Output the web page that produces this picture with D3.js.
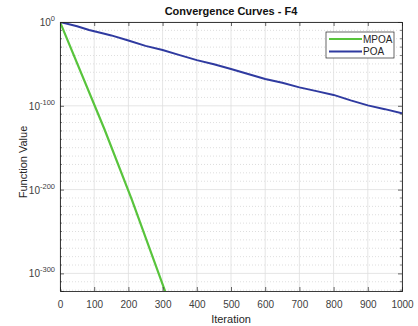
<!DOCTYPE html>
<html>
<head>
<meta charset="utf-8">
<script src="https://cdn.jsdelivr.net/npm/d3@7"></script>
<style>
  html, body { margin: 0; padding: 0; background: #fff; }
  svg { display: block; font-family: "Liberation Sans", Arial, Helvetica, sans-serif; }
</style>
</head>
<body>
<svg id="chart" width="418" height="326"></svg>
<script>
// ---- data ----
const title = "Convergence Curves - F4";
const xLabel = "Iteration";
const yLabel = "Function Value";
const seriesNames = ["MPOA", "POA"];
const mpoaIter = [0, 130, 210, 308];
const mpoaVal = [1, 1e-128, 1e-212, 1e-322];
const poaIter = [0, 50, 85, 100, 130, 150, 200, 250, 300, 350, 400, 450, 500, 550, 600, 650, 700, 750, 800, 850, 900, 950, 1000];
const poaVal = [1, 1e-5, 3.2e-10, 1e-11, 1e-14, 1e-16, 1e-22, 3.2e-29, 3.2e-34, 3.2e-40, 3.2e-46, 3.2e-51, 1e-56, 1e-62, 1e-68, 3.2e-73, 1e-78, 3.2e-83, 1e-87, 3.2e-94, 3.2e-100, 1e-104, 1e-109];
const xTicks = [0, 100, 200, 300, 400, 500, 600, 700, 800, 900, 1000];
const yTickExps = [0, -100, -200, -300];
const yMinorExps = d3.range(-10, -330, -10).filter(e => e % 100 !== 0);

// ---- layout ----
const W = 418, H = 326;
const m = { left: 60, right: 16, top: 22, bottom: 35 };
const iw = W - m.left - m.right, ih = H - m.top - m.bottom;
const svg = d3.select("#chart");
const g = svg.append("g").attr("transform", `translate(${m.left},${m.top})`);

const x = d3.scaleLinear().domain([0, 1000]).range([0, iw]);
const y = d3.scaleLog().domain([1e-321, 1]).range([ih, 0]);
const yE = e => y(Math.pow(10, e));

g.append("rect").attr("width", iw).attr("height", ih).attr("fill", "#fff");

// minor grid (dotted)
g.append("g").selectAll("line").data(yMinorExps).join("line")
  .attr("x1", 0).attr("x2", iw)
  .attr("y1", d => yE(d)).attr("y2", d => yE(d))
  .attr("stroke", "#c8c8c8").attr("stroke-width", 0.6)
  .attr("stroke-dasharray", "1,2");
// major grid
g.append("g").selectAll("line").data(yTickExps).join("line")
  .attr("x1", 0).attr("x2", iw)
  .attr("y1", d => yE(d)).attr("y2", d => yE(d))
  .attr("stroke", "#dedede").attr("stroke-width", 0.8);
g.append("g").selectAll("line").data(xTicks).join("line")
  .attr("x1", d => x(d)).attr("x2", d => x(d))
  .attr("y1", 0).attr("y2", ih)
  .attr("stroke", "#dedede").attr("stroke-width", 0.8);

// clip
svg.append("defs").append("clipPath").attr("id", "clip")
  .append("rect").attr("width", iw).attr("height", ih);

const line = d3.line().x(d => x(d[0])).y(d => y(d[1]));
const plot = g.append("g").attr("clip-path", "url(#clip)");
const colors = ["#58c43c", "#2f3aa0"];
plot.append("path").datum(mpoaIter.map((v, i) => [v, mpoaVal[i]]))
  .attr("d", line).attr("fill", "none").attr("stroke", colors[0]).attr("stroke-width", 2.2);
plot.append("path").datum(poaIter.map((v, i) => [v, poaVal[i]]))
  .attr("d", line).attr("fill", "none").attr("stroke", colors[1]).attr("stroke-width", 2);

// axes
const axCol = "#262626";
const xAxis = g.append("g").attr("transform", `translate(0,${ih})`)
  .call(d3.axisBottom(x).tickValues(xTicks).tickSize(-4).tickPadding(10).tickFormat(d3.format("d")));
const xAxisTop = g.append("g")
  .call(d3.axisTop(x).tickValues(xTicks).tickSize(-4).tickFormat(""));
const yAxis = g.append("g")
  .call(d3.axisLeft(y).tickValues(yTickExps.map(e => Math.pow(10, e))).tickSize(-4).tickPadding(6).tickFormat(""));
const yAxisR = g.append("g").attr("transform", `translate(${iw},0)`)
  .call(d3.axisRight(y).tickValues(yTickExps.map(e => Math.pow(10, e))).tickSize(-4).tickFormat(""));
// minor ticks
[0, iw].forEach((px, k) => {
  g.append("g").selectAll("line").data(yMinorExps).join("line")
    .attr("x1", px).attr("x2", k === 0 ? px + 2 : px - 2)
    .attr("y1", d => yE(d)).attr("y2", d => yE(d))
    .attr("stroke", axCol).attr("stroke-width", 0.6);
});
[xAxis, xAxisTop, yAxis, yAxisR].forEach(a => {
  a.select(".domain").attr("stroke", axCol).attr("stroke-width", 0.9);
  a.selectAll(".tick line").attr("stroke", axCol).attr("stroke-width", 0.7);
  a.selectAll("text").attr("fill", "#404040").attr("font-size", 10)
    .attr("font-family", "'Liberation Sans', Arial, sans-serif");
});

// y tick labels 10^e
const yl = g.append("g").selectAll("text").data(yTickExps).join("text")
  .attr("x", -5).attr("y", d => yE(d) + 4)
  .attr("text-anchor", "end").attr("fill", "#404040").attr("font-size", 10);
yl.append("tspan").text("10");
yl.append("tspan").attr("dy", -5).attr("font-size", 7.5).text(d => d === 0 ? "0" : "-" + Math.abs(d));

// title and labels
svg.append("text").attr("x", m.left + iw / 2).attr("y", 15)
  .attr("text-anchor", "middle").attr("font-weight", "bold").attr("font-size", 11)
  .attr("fill", "#111").text(title);
svg.append("text").attr("x", m.left + iw / 2).attr("y", 323)
  .attr("text-anchor", "middle").attr("font-size", 11).attr("fill", "#262626").text(xLabel);
svg.append("text").attr("transform", `translate(27,162) rotate(-90)`)
  .attr("text-anchor", "middle").attr("font-size", 11).attr("fill", "#262626").text(yLabel);

// legend
const lg = g.append("g").attr("transform", `translate(${iw - 76},10)`);
lg.append("rect").attr("width", 68).attr("height", 26)
  .attr("fill", "#fff").attr("stroke", axCol).attr("stroke-width", 0.7);
seriesNames.forEach((n, i) => {
  const yy = 7 + i * 12.5;
  lg.append("line").attr("x1", 3).attr("x2", 36).attr("y1", yy).attr("y2", yy)
    .attr("stroke", colors[i]).attr("stroke-width", 2);
  lg.append("text").attr("x", 37).attr("y", yy + 3.5).attr("font-size", 10)
    .attr("fill", "#262626").text(n);
});
</script>
</body>
</html>
